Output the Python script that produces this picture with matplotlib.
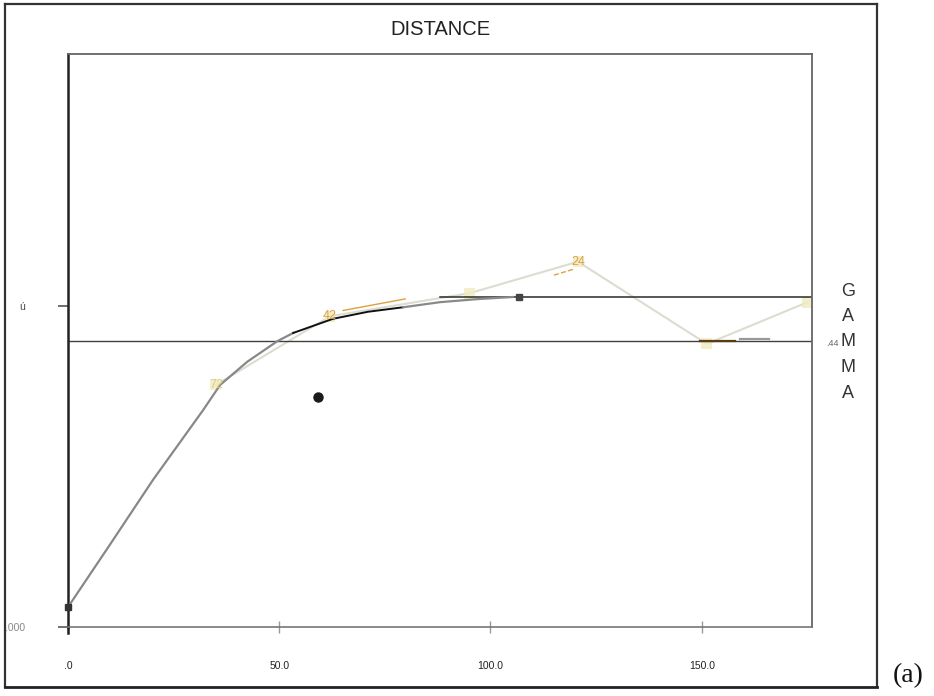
import matplotlib
matplotlib.use("Agg")
import matplotlib.pyplot as plt
from matplotlib.lines import Line2D

# Fitted variogram model (lag distance, gamma)
model_lag = [0.0, 9.9, 20.1, 32.0, 36.0, 42.4, 49.5, 53.3, 62.7, 71.0, 79.3, 88.1, 97.5, 105.3]
model_gamma = [0.031, 0.128, 0.229, 0.338, 0.377, 0.413, 0.445, 0.458, 0.480, 0.491, 0.498, 0.506, 0.511, 0.514]

# Experimental variogram (lag distance, gamma, number of pairs)
exp_lag = [35.0, 62.0, 95.1, 120.7, 151.2, 175.1]
exp_gamma = [0.377, 0.484, 0.520, 0.569, 0.441, 0.506]
exp_pairs = ["72", "42", "", "24", "", ""]

# Reference levels
sample_variance = 0.445
total_sill = 0.514
range_lag = 106.7
nugget = 0.031

# Isolated sample point
outlier_lag = [59.2]
outlier_gamma = [0.358]

x_ticks = [0, 50, 100, 150]
x_tick_labels = [".0", "50.0", "100.0", "150.0"]
y_ticks = [0.0, 0.5]
y_tick_labels = [".000", "ú"]

x_max = 176.1
y_max = 0.8925

plt.rcParams["font.family"] = ["Liberation Sans", "DejaVu Sans"]

fig = plt.figure(figsize=(9.34, 6.96), dpi=100)
W, H = 934, 696

def fx(px):
    return px / W

def fy(py):
    return 1 - py / H

# outer frame
fig.add_artist(Line2D([fx(5), fx(5)], [fy(4), fy(687)], color="#333333", lw=1.6))
fig.add_artist(Line2D([fx(5), fx(877)], [fy(4), fy(4)], color="#333333", lw=1.6))
fig.add_artist(Line2D([fx(877), fx(877)], [fy(4), fy(687)], color="#333333", lw=1.6))
fig.add_artist(Line2D([fx(5), fx(877)], [fy(687), fy(687)], color="#222222", lw=2.0))

ax = fig.add_axes([fx(68), fy(627), fx(812) - fx(68), fy(54) - fy(627)])
ax.set_xlim(0, x_max)
ax.set_ylim(0, y_max)

for side in ["top", "right"]:
    ax.spines[side].set_color("#666666")
    ax.spines[side].set_linewidth(1.3)
ax.spines["bottom"].set_color("#777777")
ax.spines["bottom"].set_linewidth(1.2)
ax.spines["left"].set_color("#222222")
ax.spines["left"].set_linewidth(1.8)

# axis line overhangs
ax.plot([0, 0], [0, -0.0095], color="#222222", lw=1.8, clip_on=False)
ax.plot([-1.9, 0], [0, 0], color="#777777", lw=1.2, clip_on=False)

ax.set_xticks(x_ticks)
ax.set_xticklabels(x_tick_labels)
ax.set_yticks(y_ticks)
ax.set_yticklabels(y_tick_labels)
ax.tick_params(axis="x", direction="inout", length=9, width=1.0, color="#999999",
               pad=20, labelsize=7.5, labelcolor="#222222")
ax.tick_params(axis="y", direction="out", length=7, width=1.2, color="#555555",
               pad=24, labelsize=7.5, labelcolor="#444444")
ax.get_yticklabels()[0].set_color("#888888")

# title
ax.set_title("DISTANCE", fontsize=14.5, color="#222222", pad=14)

# reference lines
ax.axhline(sample_variance, color="#404040", lw=1.0, zorder=2)
ax.plot([88.1, x_max], [total_sill, total_sill], color="#2a2a2a", lw=1.1, zorder=2)
ax.plot([149.6, 157.9], [sample_variance, sample_variance], color="#5a3a10", lw=1.6, zorder=3)
ax.plot([159.0, 166.0], [0.448, 0.448], color="#999999", lw=1.6, zorder=3)

# experimental variogram: faint polyline with markers
ax.plot(exp_lag, exp_gamma, color="#dcdcd0", lw=1.5, zorder=1)
ax.scatter(exp_lag, exp_gamma, s=60, marker="s", color="#f0ecc0", alpha=0.8,
           edgecolors="none", zorder=1)
label_colors = ["#d8cc80", "#e0a040", "#e8e0a0", "#e0a040", "#e8e0a0", "#e8e0a0"]
for lag, g, txt, c in zip(exp_lag, exp_gamma, exp_pairs, label_colors):
    if txt:
        ax.annotate(txt, (lag, g), ha="center", va="center", fontsize=9, color=c, zorder=4)
ax.plot([65.1, 79.8], [0.493, 0.511], color="#e0a040", lw=1.0, zorder=4)
ax.plot([115.0, 119.5], [0.548, 0.557], color="#e0a040", lw=1.0, ls="--", zorder=4)

# model curve: grey at short lags, black through the mid section
ax.plot(model_lag[:8], model_gamma[:8], color="#888888", lw=1.6, zorder=3)
ax.plot(model_lag[7:11], model_gamma[7:11], color="#111111", lw=1.4, zorder=3)
ax.plot(model_lag[10:], model_gamma[10:], color="#8a8a8a", lw=1.6, zorder=3)

# markers
ax.plot(outlier_lag, outlier_gamma, "o", color="#1a1a1a", ms=6.5, zorder=5)
ax.plot([range_lag], [total_sill], "s", color="#444444", ms=5, zorder=5)
ax.plot([0], [nugget], "s", color="#333333", ms=5, zorder=5, clip_on=False)

# vertical axis name on the right
for i, ch in enumerate("GAMMA"):
    fig.text(fx(848), fy(291 + i * 25.5), ch, ha="center", va="center",
             fontsize=13, color="#333333")
fig.text(fx(839), fy(343), ".44", ha="right", va="center", fontsize=6.5, color="#666666")

# panel label
fig.text(fx(908), fy(676), "(a)", ha="center", va="center", fontsize=20,
         family=["Liberation Serif", "DejaVu Serif"], color="#111111")

fig.savefig("out.png", dpi=100)
